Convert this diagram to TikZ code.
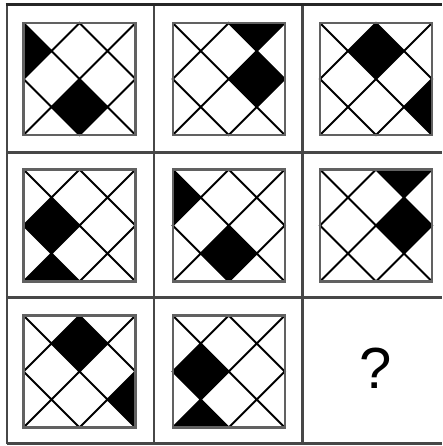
\documentclass[tikz,border=0pt]{standalone}
\usepackage{fontspec}
\setmainfont{Liberation Sans}
\begin{document}
\begin{tikzpicture}[x=1pt,y=-1pt,
  gridline/.style={line width=2.6pt,draw=black!72},
  frameline/.style={line width=2.4pt,draw=black!62},
  latline/.style={line width=1.9pt,draw=black},
  blackfill/.style={fill=black,draw=none}]
\useasboundingbox (0,0) rectangle (442,446);
\fill[white] (0,0) rectangle (442,446);
% cell grid
\foreach \gx in {7,154,302.5} \draw[gridline] (\gx,5) -- (\gx,443.5);
\foreach \gy in {152.5,297.5,443.5} \draw[gridline] (7,\gy) -- (442,\gy);
\draw[gridline,draw=black!85,line width=3pt] (5.7,5) -- (442,5);
% panel macro
\newcommand{\mypanel}[3]{%
  \begin{scope}[shift={(#1,#2)},x=28pt,y=-28pt]
    #3
    \draw[latline] (0,0) -- (4,4) (4,0) -- (0,4)
      (2,0) -- (0,2) -- (2,4) -- (4,2) -- cycle;
    \draw[frameline] (0,0) rectangle (4,4);
  \end{scope}}
\newcommand{\triLU}{\fill[blackfill] (0,0) -- (0,2) -- (1,1) -- cycle;}
\newcommand{\diaB}{\fill[blackfill] (2,2) -- (3,3) -- (2,4) -- (1,3) -- cycle;}
\newcommand{\triTR}{\fill[blackfill] (2,0) -- (4,0) -- (3,1) -- cycle;}
\newcommand{\diaR}{\fill[blackfill] (3,1) -- (4,2) -- (3,3) -- (2,2) -- cycle;}
\newcommand{\diaT}{\fill[blackfill] (2,0) -- (3,1) -- (2,2) -- (1,1) -- cycle;}
\newcommand{\triRL}{\fill[blackfill] (4,2) -- (4,4) -- (3,3) -- cycle;}
\newcommand{\diaL}{\fill[blackfill] (1,1) -- (2,2) -- (1,3) -- (0,2) -- cycle;}
\newcommand{\triBL}{\fill[blackfill] (0,4) -- (2,4) -- (1,3) -- cycle;}
% row 1
\mypanel{23.5}{23}{\triLU\diaB}
\mypanel{172.7}{23}{\triTR\diaR}
\mypanel{320}{23}{\diaT\triRL}
% row 2
\mypanel{23.5}{169.5}{\diaL\triBL}
\mypanel{172.7}{169.5}{\triLU\diaB}
\mypanel{320}{169.5}{\triTR\diaR}
% row 3
\mypanel{23.5}{315.5}{\diaT\triRL}
\mypanel{172.7}{315.5}{\diaL\triBL}
\node[font=\fontsize{58}{60}\selectfont,inner sep=0pt] (q) at (376,368) {?};
\end{tikzpicture}
\end{document}
